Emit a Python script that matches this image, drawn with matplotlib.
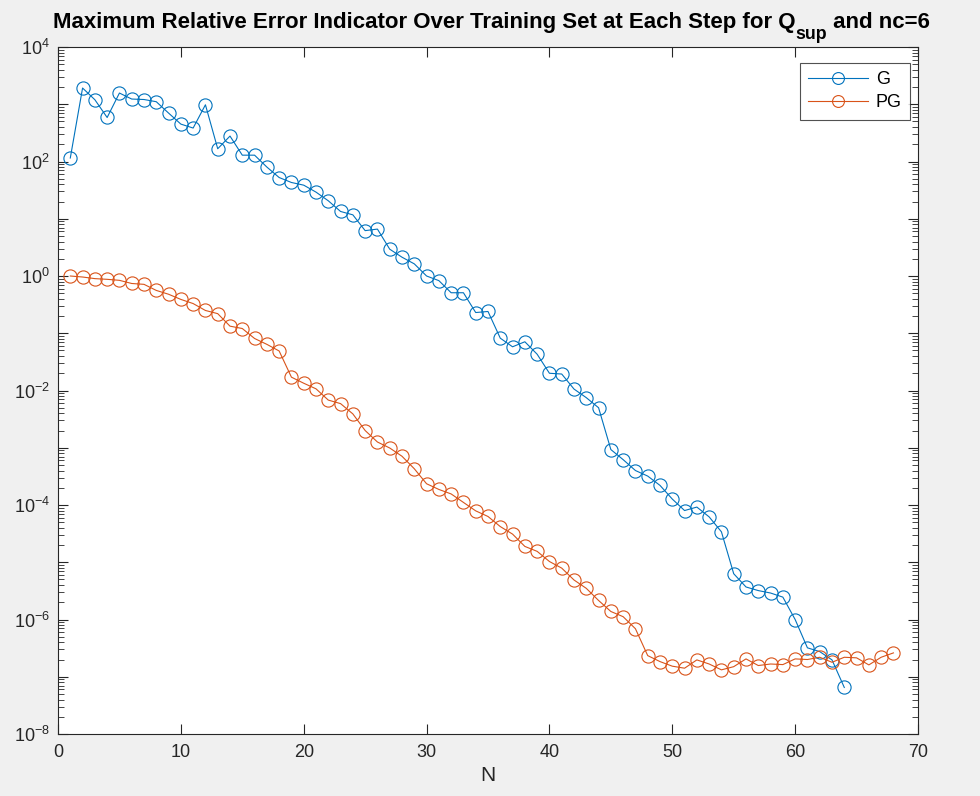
import numpy as np
import matplotlib

matplotlib.use("Agg")
import matplotlib.pyplot as plt
from matplotlib.ticker import FixedLocator, FuncFormatter, LogLocator, NullFormatter

plt.rcParams["font.family"] = ["Liberation Sans", "DejaVu Sans"]
plt.rcParams["mathtext.fontset"] = "custom"
plt.rcParams["mathtext.rm"] = "Liberation Sans"
plt.rcParams["mathtext.bf"] = "Liberation Sans:bold"

# Maximum error indicator per greedy step
g_err = [
    115, 1920, 1200, 587, 1570, 1233, 1210, 1107, 701, 450,
    384, 979, 167, 278, 129, 129, 80, 52.5, 43, 38.6,
    29.2, 20.6, 13.4, 11.7, 6.2, 6.6, 2.94, 2.13, 1.63, 1.0,
    0.83, 0.51, 0.51, 0.23, 0.24, 0.082, 0.058, 0.071, 0.043, 0.020,
    0.0194, 0.0106, 0.0075, 0.0050, 9.3e-4, 6.2e-4, 4.0e-4, 3.2e-4, 2.2e-4, 1.27e-4,
    8.0e-5, 9.2e-5, 6.2e-5, 3.4e-5, 6.3e-6, 3.7e-6, 3.2e-6, 2.9e-6, 2.46e-6, 1.0e-6,
    3.2e-7, 2.75e-7, 1.97e-7, 6.5e-8,
]
pg_err = [
    1.0, 0.96, 0.90, 0.875, 0.84, 0.74, 0.715, 0.56, 0.48, 0.39,
    0.33, 0.25, 0.22, 0.133, 0.121, 0.081, 0.064, 0.049, 0.0171, 0.0134,
    0.0107, 0.0068, 0.0059, 0.0039, 0.0020, 0.00126, 9.9e-4, 7.1e-4, 4.3e-4, 2.35e-4,
    1.87e-4, 1.56e-4, 1.11e-4, 7.9e-5, 6.3e-5, 4.2e-5, 3.1e-5, 1.89e-5, 1.55e-5, 1.03e-5,
    7.9e-6, 4.9e-6, 3.5e-6, 2.15e-6, 1.38e-6, 1.12e-6, 6.9e-7, 2.34e-7, 1.84e-7, 1.53e-7,
    1.41e-7, 1.97e-7, 1.67e-7, 1.32e-7, 1.5e-7, 2.05e-7, 1.57e-7, 1.67e-7, 1.63e-7, 2.05e-7,
    2.0e-7, 2.19e-7, 1.79e-7, 2.19e-7, 2.14e-7, 1.61e-7, 2.19e-7, 2.61e-7,
]
g_steps = np.arange(1, len(g_err) + 1)
pg_steps = np.arange(1, len(pg_err) + 1)

title_parts = ["Maximum Relative Error Indicator Over Training Set at Each Step for Q",
               "sup", " and nc=6"]

W, H = 980, 796
fig = plt.figure(figsize=(W / 100, H / 100), dpi=100)
fig.patch.set_facecolor("#f0f0f0")
ax = fig.add_axes([58 / W, 1 - 734 / H, 860 / W, 687 / H])

ax.semilogy(g_steps, g_err, "-o", color="#0072BD", lw=0.8, ms=9.5,
            mfc="none", mew=0.8, label="G")
ax.semilogy(pg_steps, pg_err, "-o", color="#D95319", lw=0.8, ms=9.5,
            mfc="none", mew=0.8, label="PG")

ax.set_xlim(0, 70)
ax.set_ylim(1e-8, 1e4)
ax.set_xticks(np.arange(0, 71, 10))

decades = 10.0 ** np.arange(-8, 5)
ax.yaxis.set_major_locator(FixedLocator(decades))
ax.yaxis.set_major_formatter(FuncFormatter(
    lambda v, pos: f"$10^{{{int(round(np.log10(v)))}}}$"
    if int(round(np.log10(v))) % 2 == 0 else ""))
ax.yaxis.set_minor_locator(LogLocator(base=10, subs=np.arange(2, 10), numticks=50))
ax.yaxis.set_minor_formatter(NullFormatter())

edge = "#262626"
for sp in ax.spines.values():
    sp.set_color(edge)
    sp.set_linewidth(0.8)
ax.tick_params(which="both", direction="in", top=True, right=True, colors=edge,
               labelsize=13, labelcolor="#262626")
ax.tick_params(which="major", length=7)
ax.tick_params(axis="x", pad=7)
ax.tick_params(axis="y", pad=6)
ax.tick_params(which="minor", length=4)

ax.set_xlabel("N", fontsize=15, color="#262626", labelpad=4)

leg = ax.legend(loc="upper right", fontsize=13, frameon=True, fancybox=False,
                edgecolor=edge, borderpad=0.45, handlelength=3.3, handletextpad=0.45,
                labelspacing=0.35, markerscale=0.9, borderaxespad=0,
                bbox_to_anchor=(1 - 8 / 860, 1 - 16 / 687))
leg.get_frame().set_linewidth(0.8)

# title with a MATLAB-style (large, low) subscript, laid out piece by piece
fs = 16
base_y = 1 - 28 / H
texts = [
    fig.text(0, base_y, title_parts[0], fontsize=fs, fontweight="bold", va="baseline"),
    fig.text(0, base_y - 11 / H, title_parts[1], fontsize=fs * 0.8, fontweight="bold",
             va="baseline"),
    fig.text(0, base_y, title_parts[2], fontsize=fs, fontweight="bold", va="baseline"),
]
renderer = fig.canvas.get_renderer()
widths = [t.get_window_extent(renderer).width for t in texts]
x = 491.5 - sum(widths) / 2
for t, w in zip(texts, widths):
    t.set_x(x / W)
    x += w

fig.savefig("out.png", dpi=100, facecolor=fig.get_facecolor())
